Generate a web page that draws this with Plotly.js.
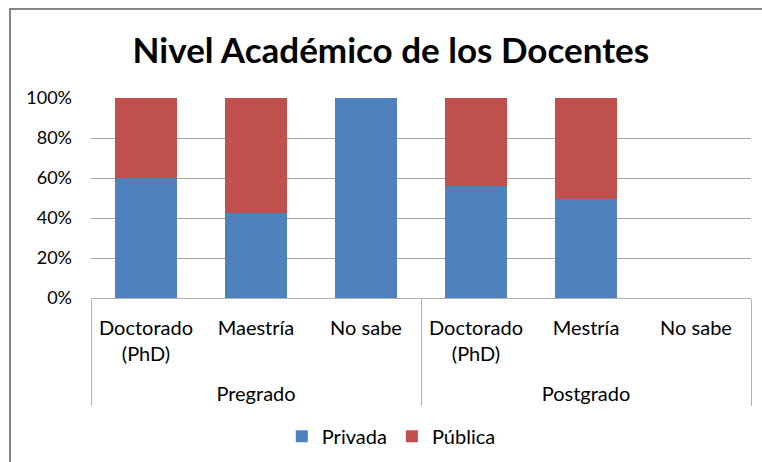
<!DOCTYPE html>
<html><head><meta charset="utf-8">
<script src="https://cdn.plot.ly/plotly-3.0.1.min.js"></script>
<style>html,body{margin:0;padding:0;background:#fff}#chart{width:762px;height:462px}</style>
</head><body><div id="chart"></div>
<script>
// Rows are listed so that Plotly's first-occurrence ordering of sub-categories
// gives: Pregrado -> Doctorado, Maestría, No sabe ; Postgrado -> Doctorado, Mestría, No sabe
const groups = ["<br>Pregrado","<br>Pregrado","<br>Postgrado","<br>Postgrado","<br>Pregrado","<br>Postgrado"];
const levels = ["Doctorado<br>(PhD)","Maestría","Doctorado<br>(PhD)","Mestría","No sabe","No sabe"];
const privada = [0.60, 0.423, 0.5625, 0.495, 1.00, 0];
const publica = [0.40, 0.577, 0.4375, 0.505, 0.00, 0];
const yTicks = [0, 0.2, 0.4, 0.6, 0.8, 1.0];
const yTickText = ["0%","20%","40%","60%","80%","100%"];

const font = "Lato, 'Open Sans', sans-serif";
const data = [
  {type:"bar", name:"Privada", x:[groups, levels], y:privada, marker:{color:"#4F81BD"}},
  {type:"bar", name:"Pública", x:[groups, levels], y:publica, marker:{color:"#C0504D"}}
];
const layout = {
  width:762, height:462,
  margin:{l:91, r:11, t:98, b:164},
  barmode:"stack", bargap:0.436,
  paper_bgcolor:"#fff", plot_bgcolor:"#fff",
  font:{family:font, size:20, color:"#000"},
  title:{text:"<b>Nivel Académico de los Docentes</b>", font:{family:font, size:35, color:"#000"}, x:0.513, xanchor:"center", y:0.89, yanchor:"middle"},
  xaxis:{type:"multicategory", automargin:false,
         showline:true, linecolor:"#B3B3B3", linewidth:1,
         showdividers:true, dividercolor:"#B3B3B3", dividerwidth:1,
         tickfont:{family:font, size:20}, ticks:"", ticklabelstandoff:12, fixedrange:true},
  yaxis:{range:[0,1], automargin:false, tickvals:yTicks, ticktext:yTickText, showgrid:true, gridcolor:"#A6A6A6", gridwidth:1,
         zeroline:false, showline:false, ticks:"", ticklen:0, ticklabelstandoff:18, tickfont:{family:font, size:18}, fixedrange:true},
  legend:{orientation:"h", traceorder:"normal", x:0.455, xanchor:"center", yref:"container", y:0.056, yanchor:"middle", font:{family:font, size:20}, itemwidth:30},
  shapes:[{type:"rect", xref:"paper", yref:"paper", x0:-0.1227, x1:1.5, y0:-2, y1:1.445, line:{color:"#868686", width:2}, fillcolor:"rgba(0,0,0,0)"}]
};
Plotly.newPlot("chart", data, layout, {displayModeBar:false, staticPlot:true});
</script></body></html>
